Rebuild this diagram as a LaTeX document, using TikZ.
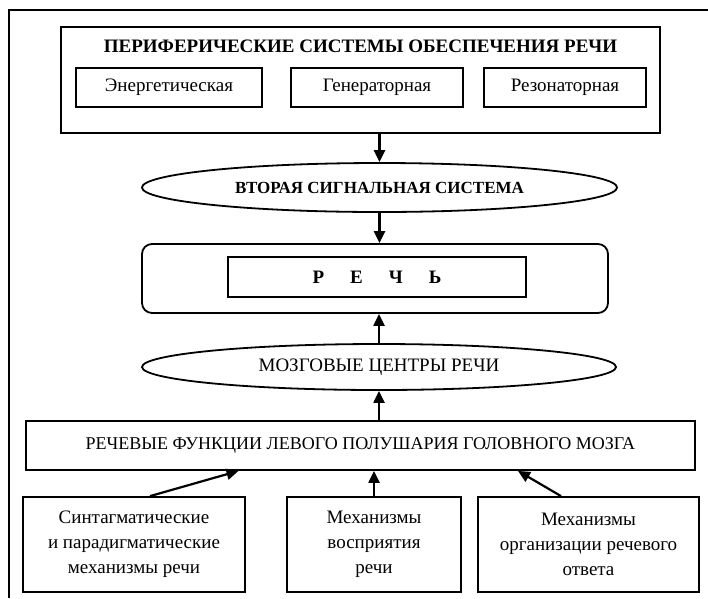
\documentclass[tikz,border=0pt]{standalone}
\usepackage{fontspec}
\setmainfont{Liberation Serif}
\usetikzlibrary{arrows.meta, shapes.geometric}

\tikzset{
	box/.style={draw, line width=1.8pt, inner sep=2pt, align=center},
	oval/.style={draw, ellipse, line width=1.8pt, inner sep=0pt},
	arr/.style={line width=2.2pt, -{Triangle[length=12pt, width=11pt]}},
	big/.style={font=\fontsize{19}{25}\selectfont}
}

\begin{document}
\begin{tikzpicture}[x=1pt, y=-1pt, big]
	\useasboundingbox (0, 0) rectangle (708, 598);
	% outer frame (cut off at right and bottom)
	\draw[line width=2.8pt] (9, 598) -- (9, 10) -- (708, 10);
	% peripheral systems
	\node[box, minimum width=599, minimum height=106] (peri) at (360.5, 80){};
	\node[font=\fontsize{19}{25}\selectfont\bfseries] (peri title) at (360.5, 46){ПЕРИФЕРИЧЕСКИЕ СИСТЕМЫ ОБЕСПЕЧЕНИЯ РЕЧИ};
	\node[box, minimum width=186, minimum height=39] (energ) at (169, 87.5){Энергетическая};
	\node[box, minimum width=172, minimum height=39] (gener) at (377, 87.5){Генераторная};
	\node[box, minimum width=162, minimum height=39] (rezon) at (565, 87.5){Резонаторная};
	% second signal system
	\node[oval, minimum width=475, minimum height=49, font=\fontsize{17}{25}\selectfont\bfseries] (vtor) at (379.5, 187.5){ВТОРАЯ СИГНАЛЬНАЯ СИСТЕМА};
	% speech
	\node[box, rounded corners=10pt, minimum width=466, minimum height=69] (rech) at (375, 278.5){};
	\node[box, minimum width=298, minimum height=40, font=\fontsize{19}{25}\selectfont\bfseries] (rechin) at (377, 277){Р\hspace{26pt}Е\hspace{26pt}Ч\hspace{26pt}Ь};
	% brain centres
	\node[oval, minimum width=474, minimum height=46] (mozg) at (379, 367){МОЗГОВЫЕ ЦЕНТРЫ РЕЧИ};
	\node[box, minimum width=669, minimum height=49, font=\fontsize{18}{25}\selectfont] (func) at (360.5, 445.5){РЕЧЕВЫЕ ФУНКЦИИ ЛЕВОГО ПОЛУШАРИЯ ГОЛОВНОГО МОЗГА};
	% mechanisms
	\node[box, minimum width=222, minimum height=95] (sint) at (134, 544.5){Синтагматические\\и парадигматические\\механизмы речи};
	\node[box, minimum width=174, minimum height=95] (vospr) at (374, 544.5){Механизмы\\восприятия\\речи};
	\node[box, minimum width=221, minimum height=95] (otvet) at (588.5, 544.5){Механизмы\\организации речевого\\ответа};
	% arrows
	\draw[arr] (vtor.north |- peri.south) -- (vtor.north);
	\draw[arr] (vtor.south) -- (vtor.south |- rech.north);
	\draw[arr] (mozg.north) -- (mozg.north |- rech.south);
	\draw[arr] (func.north -| mozg.south) -- (mozg.south);
	\draw[arr] ([xshift=16pt]sint.north) -- ([xshift=-122pt]func.south);
	\draw[arr] (vospr.north) -- (vospr.north |- func.south);
	\draw[arr] ([xshift=-27.5pt]otvet.north) -- ([xshift=157.5pt]func.south);
\end{tikzpicture}
\end{document}
